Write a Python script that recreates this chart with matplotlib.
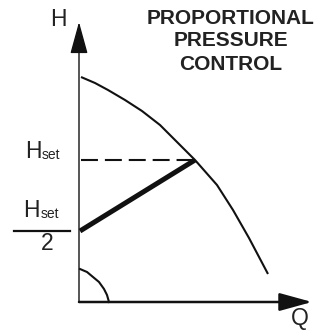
import matplotlib.pyplot as plt
from matplotlib.patches import FancyArrowPatch

plt.rcParams['font.family'] = ['Liberation Sans', 'DejaVu Sans']
plt.rcParams['lines.scale_dashes'] = False

# pump curve (flow Q vs head H)
pump_q = [2, 16, 29, 46, 63, 81, 98, 116, 138, 154, 170, 189]
pump_h = [225, 219, 212, 202, 191, 177, 160, 142, 117, 92, 64, 28]

# proportional pressure control line: from Hset/2 at zero flow up to Hset
h_set = 142
q_set = 116
ctrl_q = [1, q_set]
ctrl_h = [h_set / 2, h_set]

# small minimum curve near the origin
min_q = [1, 8, 14, 20, 25, 28, 30]
min_h = [33, 30, 25, 20, 13, 7, 0]

title_lines = ['PROPORTIONAL', 'PRESSURE', 'CONTROL']

fig = plt.figure(figsize=(3.29, 3.31), dpi=100)
ax = fig.add_axes([0, 0, 1, 1])
ax.set_xlim(-79, 250)
ax.set_ylim(-29, 302)
ax.axis('off')

# axes with arrow heads
ax.add_patch(FancyArrowPatch((0, 0), (0, 280), arrowstyle='-|>,head_length=2.0,head_width=0.55',
                             mutation_scale=10, lw=1.0, color='#111111', shrinkA=0, shrinkB=0))
ax.add_patch(FancyArrowPatch((0, 0), (233, 0), arrowstyle='-|>,head_length=2.0,head_width=0.55',
                             mutation_scale=10, lw=1.8, color='#111111', shrinkA=0, shrinkB=0))

# curves
ax.plot(pump_q, pump_h, color='#111111', lw=1.5, solid_capstyle='butt')
ax.plot(min_q, min_h, color='#111111', lw=1.5)
ax.plot([2, q_set], [h_set, h_set], color='#111111', lw=1.5, linestyle=(0, (12.2, 5)))
ax.plot(ctrl_q, ctrl_h, color='#111111', lw=3.6, solid_capstyle='butt')

# axis labels
ax.text(-21, 283, 'H', fontsize=16.5, ha='center', va='center', color='#222222')
ax.text(221, -17, 'Q', fontsize=16.5, ha='center', va='center', color='#222222')

# Hset label
ax.text(-46, 144, 'H', fontsize=16.5, ha='center', va='baseline', color='#222222')
ax.text(-28, 143, 'set', fontsize=10, ha='center', va='baseline', color='#222222')

# Hset / 2 fraction
ax.text(-48, 85, 'H', fontsize=16.5, ha='center', va='baseline', color='#222222')
ax.text(-29, 84, 'set', fontsize=10, ha='center', va='baseline', color='#222222')
ax.plot([-65, -9], [h_set / 2, h_set / 2], color='#111111', lw=1.6)
ax.text(-32, 58, '2', fontsize=16.5, ha='center', va='center', color='#222222')

# title
for i, line in enumerate(title_lines):
    ax.text(152, 284 - 23 * i, line, fontsize=15, fontweight='bold',
            ha='center', va='center', color='#222222')

fig.savefig('out.png', dpi=100)
